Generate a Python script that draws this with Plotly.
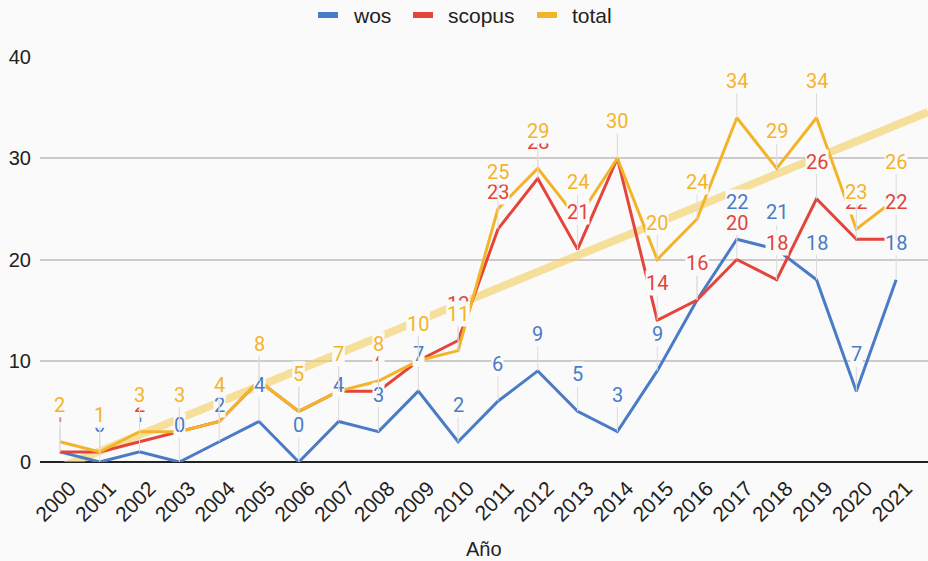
import numpy as np
import plotly.graph_objects as go

years = [str(y) for y in range(2000, 2022)]
wos = [1, 0, 1, 0, 2, 4, 0, 4, 3, 7, 2, 6, 9, 5, 3, 9, 16, 22, 21, 18, 7, 18]
scopus = [1, 1, 2, 3, 4, 8, 5, 7, 7, 10, 12, 23, 28, 21, 30, 14, 16, 20, 18, 26, 22, 22]
total = [2, 1, 3, 3, 4, 8, 5, 7, 8, 10, 11, 25, 29, 24, 30, 20, 24, 34, 29, 34, 23, 26]

series = [("wos", wos, "#4a7bc6"), ("scopus", scopus, "#e4443a"), ("total", total, "#f3b42a")]
bg = "#fafafa"
ARIAL = "Liberation Sans, Arial"

W, H = 928, 561
ML, MR, MT, MB = 40, 0, 57, 99
PW, PH = W - ML - MR, H - MT - MB

def px_x(p):
    return (p - ML) / PW

def px_y(p):
    return (H - MB - p) / PH

x = np.arange(len(years))
xr = [-0.5, 21.8]
slope, inter = np.polyfit(x, total, 1)

fig = go.Figure()
fig.add_trace(go.Scatter(x=xr, y=[slope * v + inter for v in xr], mode="lines",
                         line=dict(color="rgba(244,205,90,0.6)", width=8),
                         showlegend=False, hoverinfo="skip"))
for name, vals, col in series:
    fig.add_trace(go.Scatter(x=x, y=vals, mode="lines", name=name,
                             line=dict(color=col, width=3), showlegend=False))

annotations = []
for name, vals, col in series:
    for xi, v in zip(x, vals):
        annotations.append(dict(x=xi, y=v, xref="x", yref="y", text=str(v),
                                showarrow=True, arrowhead=0, arrowwidth=1,
                                arrowcolor="#dcdcdc", ax=0, ay=-37,
                                font=dict(family="Roboto", size=20, color=col),
                                bgcolor=bg, borderpad=0))
annotations.append(dict(x=0.5, y=-0.215, xref="paper", yref="paper", text="Año",
                        showarrow=False, yanchor="middle",
                        font=dict(family=ARIAL, size=20, color="#222")))

# manual legend
shapes = []
legend_pos = [318, 413, 537]
for (name, vals, col), lx in zip(series, legend_pos):
    shapes.append(dict(type="rect", xref="paper", yref="paper",
                       x0=px_x(lx), x1=px_x(lx + 20), y0=px_y(18), y1=px_y(12),
                       fillcolor=col, line=dict(width=0)))
    annotations.append(dict(x=px_x(lx + 33), y=px_y(15), xref="paper", yref="paper",
                            text=name, showarrow=False, xanchor="left", yanchor="middle",
                            font=dict(family=ARIAL, size=21, color="#222")))

fig.update_layout(
    width=W, height=H,
    margin=dict(l=ML, r=MR, t=MT, b=MB),
    paper_bgcolor=bg, plot_bgcolor=bg,
    font=dict(family=ARIAL, color="#222"),
    showlegend=False,
    annotations=annotations, shapes=shapes,
    xaxis=dict(range=xr, tickvals=list(x), ticktext=years, tickangle=-45,
               showgrid=False, zeroline=False, tickfont=dict(family=ARIAL, size=21, color="#222"),
               ticks="", showline=False, ticklabelshift=10, ticklabelstandoff=9),
    yaxis=dict(range=[0, 40], dtick=10, showgrid=True, gridcolor="#cfcaca", gridwidth=1.5,
               zeroline=True, zerolinecolor="#222", zerolinewidth=1.5,
               tickfont=dict(family=ARIAL, size=20, color="#222"), ticks="", ticklabelstandoff=8),
)
fig.write_html("out.html")
